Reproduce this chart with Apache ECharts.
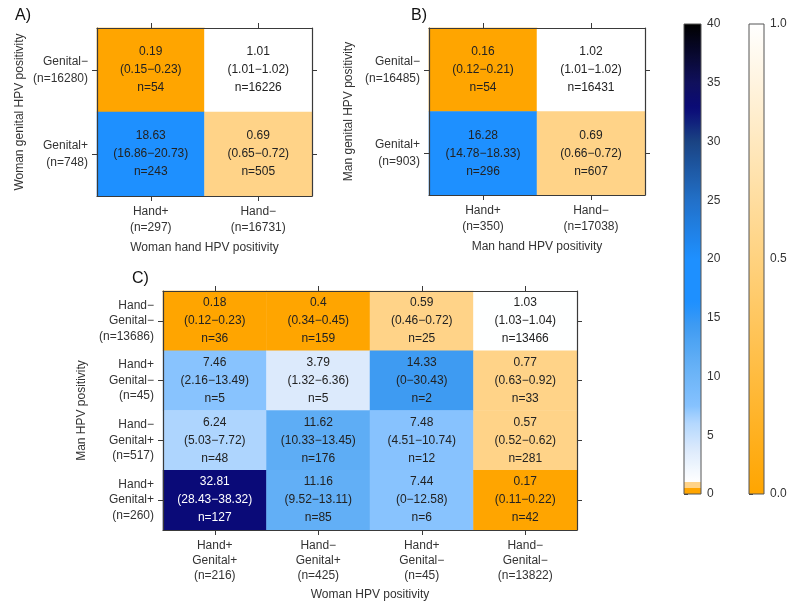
<!DOCTYPE html>
<html>
<head>
<meta charset="utf-8">
<script src="https://cdn.jsdelivr.net/npm/echarts@6/dist/echarts.min.js"></script>
<style>html,body{margin:0;padding:0;background:#fff;}#chart{width:800px;height:611px;}</style>
</head>
<body>
<div id="chart"></div>
<script>
// ---------- Data ----------
// Panel A (woman): columns = hand status, rows (top to bottom) = genital status
const aHand = ['Hand+\n(n=297)', 'Hand\u2212\n(n=16731)'];
const aGenital = ['Genital\u2212\n(n=16280)', 'Genital+\n(n=748)'];
const aEst = [[0.19, 1.01], [18.63, 0.69]];
const aLo  = [[0.15, 1.01], [16.86, 0.65]];
const aHi  = [[0.23, 1.02], [20.73, 0.72]];
const aN   = [[54, 16226], [243, 505]];

// Panel B (man)
const bHand = ['Hand+\n(n=350)', 'Hand\u2212\n(n=17038)'];
const bGenital = ['Genital\u2212\n(n=16485)', 'Genital+\n(n=903)'];
const bEst = [[0.16, 1.02], [16.28, 0.69]];
const bLo  = [[0.12, 1.01], [14.78, 0.66]];
const bHi  = [[0.21, 1.02], [18.33, 0.72]];
const bN   = [[54, 16431], [296, 607]];

// Panel C (couple): columns = woman status, rows (top to bottom) = man status
const cWoman = ['Hand+\nGenital+\n(n=216)', 'Hand\u2212\nGenital+\n(n=425)', 'Hand+\nGenital\u2212\n(n=45)', 'Hand\u2212\nGenital\u2212\n(n=13822)'];
const cMan = ['Hand\u2212\nGenital\u2212\n(n=13686)', 'Hand+\nGenital\u2212\n(n=45)', 'Hand\u2212\nGenital+\n(n=517)', 'Hand+\nGenital+\n(n=260)'];
const cEst = [[0.18, 0.4, 0.59, 1.03], [7.46, 3.79, 14.33, 0.77], [6.24, 11.62, 7.48, 0.57], [32.81, 11.16, 7.44, 0.17]];
const cLo  = [[0.12, 0.34, 0.46, 1.03], [2.16, 1.32, 0, 0.63], [5.03, 10.33, 4.51, 0.52], [28.43, 9.52, 0, 0.11]];
const cHi  = [[0.23, 0.45, 0.72, 1.04], [13.49, 6.36, 30.43, 0.92], [7.72, 13.45, 10.74, 0.62], [38.32, 13.11, 12.58, 0.22]];
const cN   = [[36, 159, 25, 13466], [5, 5, 2, 33], [48, 176, 12, 281], [127, 85, 6, 42]];

// Colour bar ranges / tick steps
const blueBarRange = [0, 40];
const blueBarStep = 5;
const orangeBarRange = [0, 1];
const orangeBarStep = 0.5;

// ---------- Styling ----------
const FONT = '"Liberation Sans", Arial, Helvetica, sans-serif';
const TXT = '#333';
const LINE = '#3a3a3a';
const ORANGE = '#FFA500';
const LIGHT_ORANGE = '#FFD388';
const blueAnchors = [
  [1, '#FFFFFF'], [3.8, '#DCEAFC'], [6.2, '#B0D6FE'], [7.5, '#86C2FE'],
  [11.4, '#60AEF5'], [14.3, '#3F9BF2'], [16.3, '#1E90FF'], [20, '#1E90FF'],
  [25, '#2270C8'], [30, '#1A4383'], [32.8, '#0A0A78'], [35, '#10105C'], [40, '#000000']
];
function hex2rgb(h) { return [1, 3, 5].map(i => parseInt(h.substr(i, 2), 16)); }
function rgb2hex(c) { return '#' + c.map(v => Math.round(v).toString(16).padStart(2, '0')).join(''); }
function colorAt(v) {
  if (v < 0.5) return ORANGE;
  if (v < 1) return LIGHT_ORANGE;
  for (let i = 1; i < blueAnchors.length; i++) {
    const [v0, c0] = blueAnchors[i - 1], [v1, c1] = blueAnchors[i];
    if (v <= v1) {
      const t = (v - v0) / (v1 - v0);
      const a = hex2rgb(c0), b = hex2rgb(c1);
      return rgb2hex(a.map((x, k) => x + (b[k] - x) * t));
    }
  }
  return blueAnchors[blueAnchors.length - 1][1];
}
// fine colour list for the visualMap (evenly spaced over 0..40)
const vmStep = 0.05;
const vmColors = [];
for (let v = blueBarRange[0]; v <= blueBarRange[1] + 1e-9; v += vmStep) vmColors.push(colorAt(Math.round(v * 100) / 100));

// gradient for the drawn colour bar (hard steps below 1)
const span = blueBarRange[1] - blueBarRange[0];
const barStops = [
  { offset: 0, color: ORANGE }, { offset: 0.5 / span, color: ORANGE },
  { offset: 0.5 / span, color: LIGHT_ORANGE }, { offset: 1 / span, color: LIGHT_ORANGE },
  { offset: 1 / span, color: '#FFFFFF' }
];
for (let v = 1.5; v <= 40; v += 0.5) barStops.push({ offset: v / span, color: colorAt(v) });

// ---------- Helpers ----------
function cells(est, lo, hi, n) {
  const out = [];
  est.forEach((row, r) => row.forEach((v, c) => {
    out.push({
      value: [c, r, v],
      lo: lo[r][c], hi: hi[r][c], n: n[r][c],
      label: { color: v > 25 ? '#FFFFFF' : '#222222' }
    });
  }));
  return out;
}
function labelFmt(p) {
  return p.data.value[2] + '\n(' + p.data.lo + '\u2212' + p.data.hi + ')\nn=' + p.data.n;
}
const tick = { show: true, alignWithLabel: true, length: 5, lineStyle: { color: LINE, width: 1 } };
const aline = { show: true, lineStyle: { color: LINE, width: 1.2 } };
function xAxes(gi, cats, name, gap, lh) {
  return [
    { type: 'category', gridIndex: gi, data: cats, position: 'bottom', z: 5,
      axisLine: aline, axisTick: tick, splitLine: { show: false },
      axisLabel: { fontFamily: FONT, fontSize: 12, color: TXT, lineHeight: lh, margin: 8 },
      name: name, nameLocation: 'middle', nameGap: gap,
      nameTextStyle: { fontFamily: FONT, fontSize: 12, color: TXT } },
    { type: 'category', gridIndex: gi, data: cats, position: 'top', z: 5,
      axisLine: aline, axisTick: tick, axisLabel: { show: false }, splitLine: { show: false } }
  ];
}
function yAxes(gi, cats, name, gap, lh) {
  return [
    { type: 'category', gridIndex: gi, data: cats, inverse: true, position: 'left', z: 5,
      axisLine: aline, axisTick: tick, splitLine: { show: false },
      axisLabel: { fontFamily: FONT, fontSize: 12, color: TXT, lineHeight: lh, margin: 9, align: 'right' },
      name: name, nameLocation: 'middle', nameGap: gap,
      nameTextStyle: { fontFamily: FONT, fontSize: 12, color: TXT } },
    { type: 'category', gridIndex: gi, data: cats, inverse: true, position: 'right', z: 5,
      axisLine: aline, axisTick: tick, axisLabel: { show: false }, splitLine: { show: false } }
  ];
}
function barAxis(gi, range, step, fmt) {
  return { type: 'value', gridIndex: gi, min: range[0], max: range[1], interval: step, position: 'right',
    axisLine: { show: false }, splitLine: { show: false },
    axisTick: { show: true, length: 4, lineStyle: { color: LINE } },
    axisLabel: { fontFamily: FONT, fontSize: 12, color: TXT, margin: 6, formatter: fmt } };
}
function heat(xi, yi, data) {
  return { type: 'heatmap', xAxisIndex: xi, yAxisIndex: yi, data: data,
    label: { show: true, fontFamily: FONT, fontSize: 12, lineHeight: 18, formatter: labelFmt },
    emphasis: { disabled: true }, itemStyle: { borderWidth: 0 } };
}

const chart = echarts.init(document.getElementById('chart'), null, { renderer: 'canvas' });
chart.setOption({
  animation: false,
  backgroundColor: '#fff',
  grid: [
    { left: 97, top: 28, width: 215, height: 168 },
    { left: 429, top: 28, width: 216, height: 167 },
    { left: 163, top: 291, width: 414, height: 239 },
    { left: 684, top: 24, width: 17, height: 470, show: true, borderColor: '#555', borderWidth: 1, z: 10 },
    { left: 749, top: 24, width: 15, height: 470, show: true, borderColor: '#555', borderWidth: 1, z: 10 }
  ],
  xAxis: [
    ...xAxes(0, aHand, 'Woman hand HPV positivity', 46, 16),
    ...xAxes(1, bHand, 'Man hand HPV positivity', 46, 16),
    ...xAxes(2, cWoman, 'Woman HPV positivity', 59, 15),
    { type: 'value', gridIndex: 3, show: false, min: 0, max: 1 },
    { type: 'value', gridIndex: 4, show: false, min: 0, max: 1 }
  ],
  yAxis: [
    ...yAxes(0, aGenital, 'Woman genital HPV positivity', 71, 17),
    ...yAxes(1, bGenital, 'Man genital HPV positivity', 74, 17),
    ...yAxes(2, cMan, 'Man HPV positivity', 72, 15.5),
    barAxis(3, blueBarRange, blueBarStep, v => String(v)),
    barAxis(4, orangeBarRange, orangeBarStep, v => v.toFixed(1))
  ],
  visualMap: [{
    type: 'continuous', show: false, min: blueBarRange[0], max: blueBarRange[1],
    seriesIndex: [0, 1, 2], dimension: 2, inRange: { color: vmColors }
  }],
  series: [
    heat(0, 0, cells(aEst, aLo, aHi, aN)),
    heat(2, 2, cells(bEst, bLo, bHi, bN)),
    heat(4, 4, cells(cEst, cLo, cHi, cN))
  ],
  graphic: [
    { type: 'rect', z: 4, shape: { x: 684, y: 24, width: 17, height: 470 },
      style: { fill: { type: 'linear', x: 0, y: 1, x2: 0, y2: 0, colorStops: barStops } } },
    { type: 'rect', z: 4, shape: { x: 749, y: 24, width: 15, height: 470 },
      style: { fill: { type: 'linear', x: 0, y: 1, x2: 0, y2: 0,
        colorStops: [{ offset: 0, color: ORANGE }, { offset: 1, color: '#FFFFFF' }] } } },
    { type: 'text', left: 15, top: 8, style: { text: 'A)', font: '16px ' + FONT, fill: '#111' } },
    { type: 'text', left: 411, top: 8, style: { text: 'B)', font: '16px ' + FONT, fill: '#111' } },
    { type: 'text', left: 132, top: 271, style: { text: 'C)', font: '16px ' + FONT, fill: '#111' } }
  ]
});
</script>
</body>
</html>
